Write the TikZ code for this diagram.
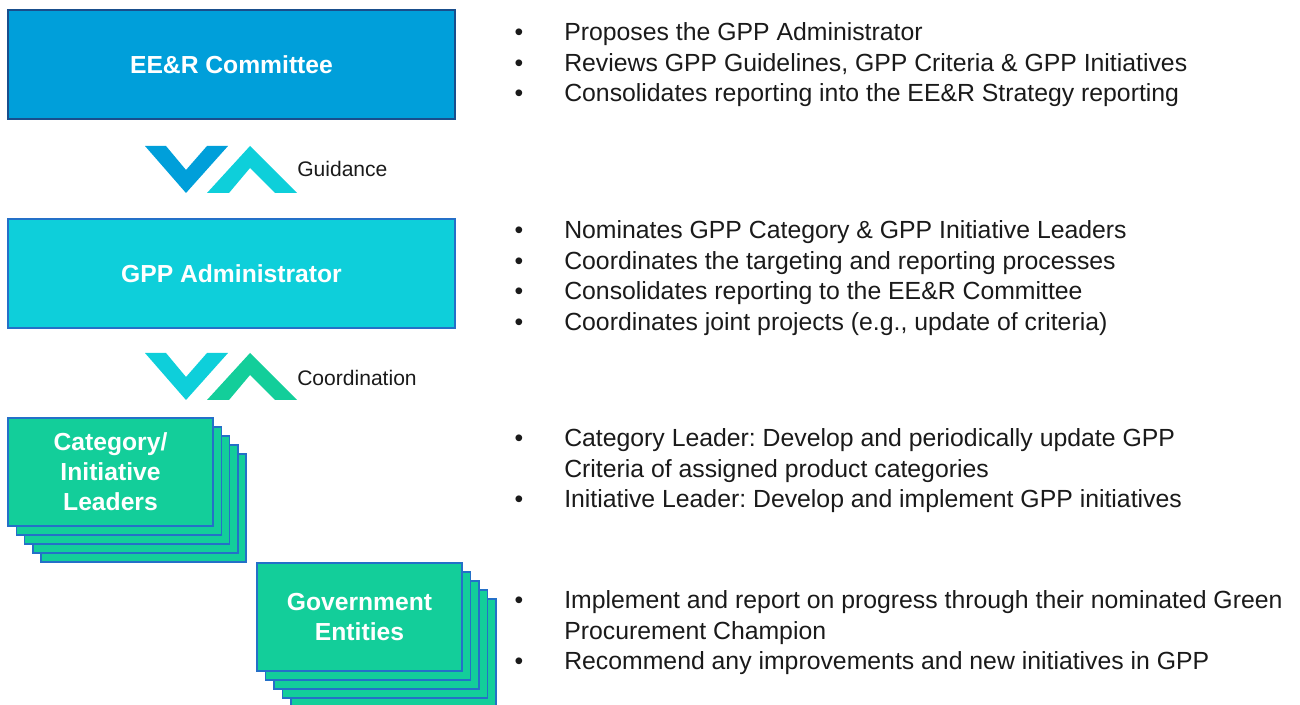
\documentclass[tikz,border=0pt]{standalone}
\usepackage{fontspec}
\setmainfont{Liberation Sans}
\frenchspacing
\usetikzlibrary{positioning}
\definecolor{eerblue}{RGB}{0,159,218}
\definecolor{gppcyan}{RGB}{14,207,218}
\definecolor{leadgreen}{RGB}{19,206,154}
\definecolor{edgeblue}{RGB}{36,112,200}
\definecolor{inkgrey}{RGB}{26,26,26}

\begin{document}
\begin{tikzpicture}[x=0.75pt,y=-0.75pt,
  head/.style={font=\bfseries\fontsize{18.5}{22.5}\selectfont,text=white,align=center,inner sep=0pt},
  bigbox/.style={minimum width=335.25pt,minimum height=81.75pt,line width=0.8pt},
  stackbox/.style={draw=edgeblue,fill=leadgreen,line width=1.1pt},
  item/.style={anchor=base west,inner sep=0pt,align=left,text=inkgrey,
               font=\fontsize{18.6}{22.9}\selectfont},
  dot/.style={anchor=base,inner sep=0pt,text=inkgrey,font=\fontsize{18.6}{22.9}\selectfont},
  flow/.style={anchor=west,inner sep=0pt,text=inkgrey,font=\fontsize{15.8}{19}\selectfont}]
\useasboundingbox (0,0) rectangle (1300,705);

% top two boxes
\node[bigbox,draw=edgeblue!70!black,fill=eerblue] (eer) at (231.5,64.5) {};
\node[head] (eert) at (eer.center) {EE\&R Committee};
\node[bigbox,draw=edgeblue,fill=gppcyan] (gpp) at (231.5,273.5) {};
\node[head] (gppt) at (gpp.center) {GPP Administrator};

% chevrons
\fill[eerblue] (145,146) -- (166,146) -- (186,170) -- (207,146) -- (228,146) -- (186,193) -- cycle;
\fill[gppcyan] (207,193) -- (250,146) -- (297,193) -- (275,193) -- (250,168) -- (229,193) -- cycle;
\node[flow] (guid) at (297,169) {Guidance};
\fill[gppcyan] (145,353) -- (166,353) -- (186,377) -- (207,353) -- (228,353) -- (186,400) -- cycle;
\fill[leadgreen] (207,400) -- (250,353) -- (297,400) -- (275,400) -- (250,375) -- (229,400) -- cycle;
\node[flow] (coord) at (297,378) {Coordination};

% stacked boxes
\foreach \k in {4,3,2,1}{
  \draw[stackbox] (8+8.3*\k,418+9*\k) rectangle ++(205,108);
  \draw[stackbox] (257+8.5*\k,563+9*\k) rectangle ++(205,108);
}
\draw[stackbox] (8,418) rectangle (213,526) node[midway] (lead) {};
\node[head] (leadt) at (lead.center) {Category/\\Initiative\\Leaders};
\draw[stackbox] (257,563) rectangle (462,671) node[midway] (gov) {};
\node[head] (govt) at (gov.center) {Government\\Entities};

% bullet lists (\n = extra lines below the first one)
\foreach \y/\n/\t [count=\i] in {
  41/0/{Proposes the GPP Administrator},
  71.5/0/{Reviews GPP Guidelines, GPP Criteria \& GPP Initiatives},
  102/0/{Consolidates reporting into the EE\&R Strategy reporting},
  239/0/{Nominates GPP Category \& GPP Initiative Leaders},
  269.5/0/{Coordinates the targeting and reporting processes},
  300/0/{Consolidates reporting to the EE\&R Committee},
  330.5/0/{Coordinates joint projects (e.g., update of criteria)},
  447/1/{Category Leader: Develop and periodically update GPP\\Criteria of assigned product categories},
  507.5/0/{Initiative Leader: Develop and implement GPP initiatives},
  609/1/{Implement and report on progress through their nominated Green\\Procurement Champion},
  669.5/0/{Recommend any improvements and new initiatives in GPP}}{
  \node[dot] (d\i) at (519,\y) {\textbullet};
  \node[item] (t\i) at (564,\y+30.5*\n) {\t};
}
\end{tikzpicture}
\end{document}
